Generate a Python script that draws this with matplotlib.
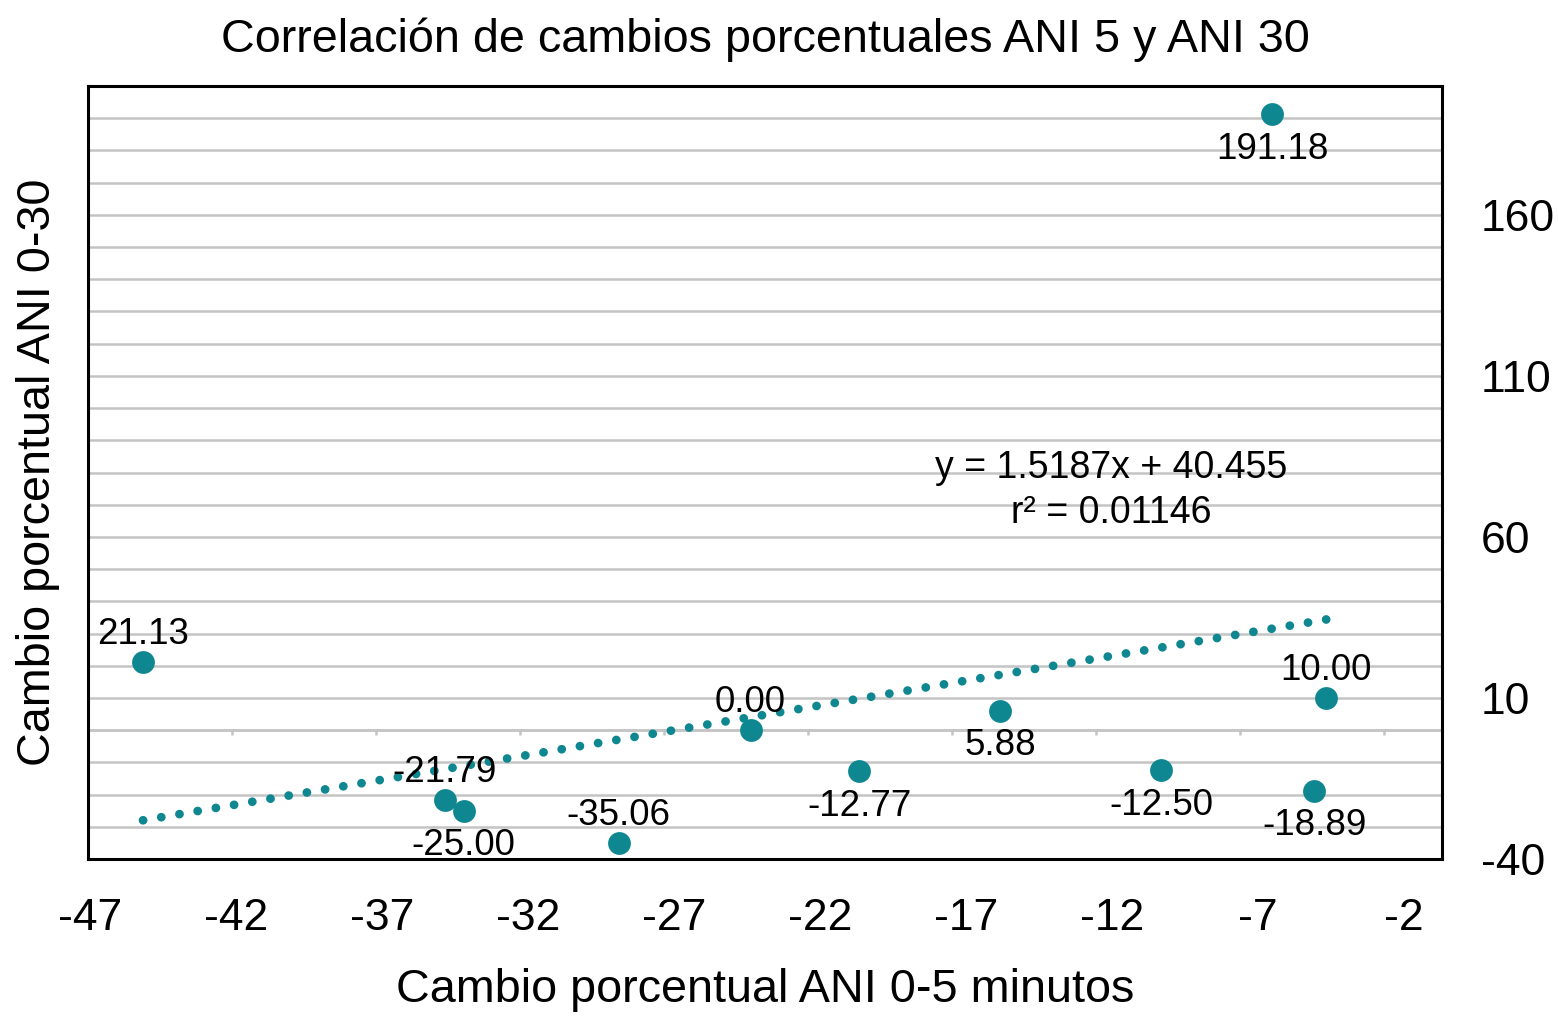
import numpy as np
import matplotlib
matplotlib.use("Agg")
import matplotlib.pyplot as plt

plt.rcParams['font.family'] = ['Liberation Sans', 'DejaVu Sans']
plt.rcParams['axes.unicode_minus'] = False

# values
cambio5 = [-45.09, -34.62, -33.96, -28.58, -24.00, -20.22, -15.33, -9.75, -5.90, -4.44, -4.02]
cambio30 = [21.13, -21.79, -25.00, -35.06, 0.00, -12.77, 5.88, -12.50, 191.18, -18.89, 10.00]
labelSide = ['above', 'above', 'below', 'above', 'above', 'below', 'below', 'below', 'below', 'below', 'above']
xTickValues = [-47, -42, -37, -32, -27, -22, -17, -12, -7, -2]
yTickValues = [-40, 10, 60, 110, 160]
ecuacion = "y = 1.5187x + 40.455"
rCuadrado = "r² = 0.01146"

teal = '#0f8791'
gridGray = '#c4c4c4'

fig = plt.figure(figsize=(15.58, 10.24), dpi=100)
ax = fig.add_axes([88 / 1558, 1 - 859 / 1024, (1442 - 88) / 1558, (859 - 86) / 1024])
ax.set_xlim(-47, 0)
ax.set_ylim(-40, 200)

# horizontal grid every 10
ax.set_yticks(np.arange(-40, 201, 10), minor=True)
ax.yaxis.grid(True, which='both', color=gridGray, lw=1.8)
ax.set_axisbelow(True)

# points
ax.scatter(cambio5, cambio30, s=270, color=teal, linewidths=0, zorder=3)

# linear trend line
slope, intercept = np.polyfit(cambio5, cambio30, 1)
xs = np.array([min(cambio5), max(cambio5)])
ax.plot(xs, slope * xs + intercept, color=teal, lw=6.3, linestyle=(0, (0.01, 2.1)),
        dash_capstyle='round', zorder=2)

# data labels
for x, y, side in zip(cambio5, cambio30, labelSide):
    off = 20 if side == 'above' else -25
    ax.annotate(f"{y:.2f}", (x, y), xytext=(0, off), textcoords='offset points',
                ha='center', va='center', fontsize=26.5, zorder=4)

ax.text(0.756, 0.506, ecuacion, transform=ax.transAxes, ha='center', va='center', fontsize=27)
ax.text(0.756, 0.448, rCuadrado, transform=ax.transAxes, ha='center', va='center', fontsize=27)

# y axis on the right
ax.yaxis.tick_right()
ax.set_yticks(yTickValues)
ax.tick_params(axis='y', which='both', length=0, labelsize=32, pad=28)

# x tick labels (spread slightly wider than the axis, as in the original)
stretch = 29.22 / 28.83
xTickPos = [-47 + (2 / 28.83) + (v + 47) * stretch for v in xTickValues]
ax.set_xticks(xTickPos, [str(v) for v in xTickValues])
ax.tick_params(axis='x', length=0, labelsize=32, pad=28)

# horizontal axis crossing at y = 0 with small gray ticks
sec = ax.secondary_xaxis(0, transform=ax.transData)
sec.set_xticks(np.arange(-42, 0, 5))
sec.tick_params(length=3.6, width=1.8, color=gridGray, labelbottom=False)
sec.spines['bottom'].set_color(gridGray)
sec.spines['bottom'].set_linewidth(1.8)

for s in ax.spines.values():
    s.set_linewidth(2.2)
    s.set_color('black')

ax.set_title("Correlación de cambios porcentuales ANI 5 y ANI 30", fontsize=33.7, pad=24.5)
ax.set_xlabel("Cambio porcentual ANI 0-5 minutos", fontsize=33.7, va='top')
ax.xaxis.set_label_coords(0.5, -0.141)
ax.set_ylabel("Cambio porcentual ANI 0-30", fontsize=33.7)
ax.yaxis.set_label_position('left')
ax.yaxis.set_label_coords(-0.021, 0.5)

fig.savefig("out.png", dpi=100)
